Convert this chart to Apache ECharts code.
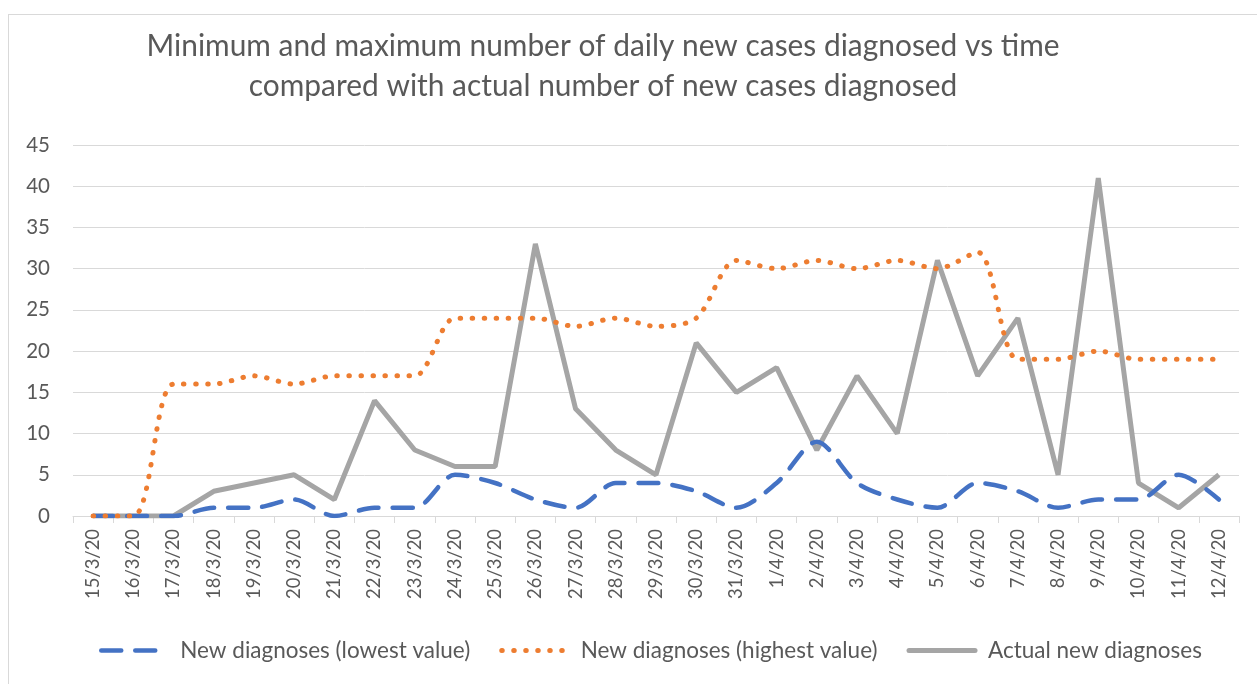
<!DOCTYPE html>
<html>
<head>
<meta charset="utf-8">
<script src="https://cdn.jsdelivr.net/npm/echarts@6/dist/echarts.min.js"></script>
<style>
html,body{margin:0;padding:0;background:#fff;}
#frame{position:absolute;left:8px;top:14px;width:1260px;height:680px;border:1px solid #d9d9d9;box-sizing:border-box;}
#chart{position:absolute;left:0;top:0;width:1257px;height:684px;}
</style>
</head>
<body>
<div id="frame"></div>
<div id="chart"></div>
<script>
const categories = ['15/3/20','16/3/20','17/3/20','18/3/20','19/3/20','20/3/20','21/3/20','22/3/20','23/3/20','24/3/20','25/3/20','26/3/20','27/3/20','28/3/20','29/3/20','30/3/20','31/3/20','1/4/20','2/4/20','3/4/20','4/4/20','5/4/20','6/4/20','7/4/20','8/4/20','9/4/20','10/4/20','11/4/20','12/4/20'];
const lowestValues = [0,0,0,1,1,2,0,1,1,5,4,2,1,4,4,3,1,4,9,4,2,1,4,3,1,2,2,5,2];
const highestValues = [0,0,16,16,17,16,17,17,17,24,24,24,23,24,23,24,31,30,31,30,31,30,32,19,19,20,19,19,19];
const actualValues = [0,0,0,3,4,5,2,14,8,6,6,33,13,8,5,21,15,18,8,17,10,31,17,24,5,41,4,1,5];
const seriesNames = ['New diagnoses (lowest value)','New diagnoses (highest value)','Actual new diagnoses'];
const titleText = 'Minimum and maximum number of daily new cases diagnosed vs time\ncompared with actual number of new cases diagnosed';

const FONT = 'Lato';
const chart = echarts.init(document.getElementById('chart'), null, {renderer:'canvas'});
chart.setOption({
  animation:false,
  backgroundColor:'transparent',
  graphic:[{
    type:'text',
    style:{x:603,y:26,text:titleText,textAlign:'center',textVerticalAlign:'top',
      font:'29.9px Lato',fill:'#595959',lineHeight:40}
  }],
  legend:{
    top:634,
    left:94,
    icon:'inherit',
    itemWidth:66,
    itemHeight:16,
    itemGap:29,
    itemStyle:{opacity:0,borderWidth:0},
    lineStyle:{width:'inherit',type:'inherit',cap:'round'},
    textStyle:{fontFamily:FONT,fontSize:22.5,color:'#595959',padding:[0,0,0,8]},
    data:seriesNames
  },
  grid:{left:73,right:18,top:145,bottom:168},
  xAxis:{
    type:'category',
    data:categories,
    boundaryGap:true,
    axisLine:{lineStyle:{color:'#d9d9d9',width:1}},
    axisTick:{show:true,length:7,lineStyle:{color:'#d9d9d9'}},
    axisLabel:{rotate:90,interval:0,fontFamily:FONT,fontSize:18.4,color:'#595959',margin:13}
  },
  yAxis:{
    type:'value',
    min:0,max:45,interval:5,
    axisLine:{show:false},
    axisTick:{show:false},
    splitLine:{lineStyle:{color:'#d9d9d9',width:1}},
    axisLabel:{fontFamily:FONT,fontSize:20.5,color:'#595959',margin:23}
  },
  series:[
    {name:seriesNames[0],type:'line',data:lowestValues,symbol:'none',smooth:0.3,z:3,
     lineStyle:{color:'#4472c4',width:4.5,type:[20,14],cap:'round'},itemStyle:{color:'#4472c4'}},
    {name:seriesNames[1],type:'line',data:highestValues,symbol:'none',smooth:0.3,z:4,
     lineStyle:{color:'#ed7d31',width:5,type:[0.5,11.5],cap:'round'},itemStyle:{color:'#ed7d31'}},
    {name:seriesNames[2],type:'line',data:actualValues,symbol:'none',smooth:false,z:2,
     lineStyle:{color:'#a5a5a5',width:5,type:'solid'},itemStyle:{color:'#a5a5a5'}}
  ]
});
</script>
</body>
</html>
